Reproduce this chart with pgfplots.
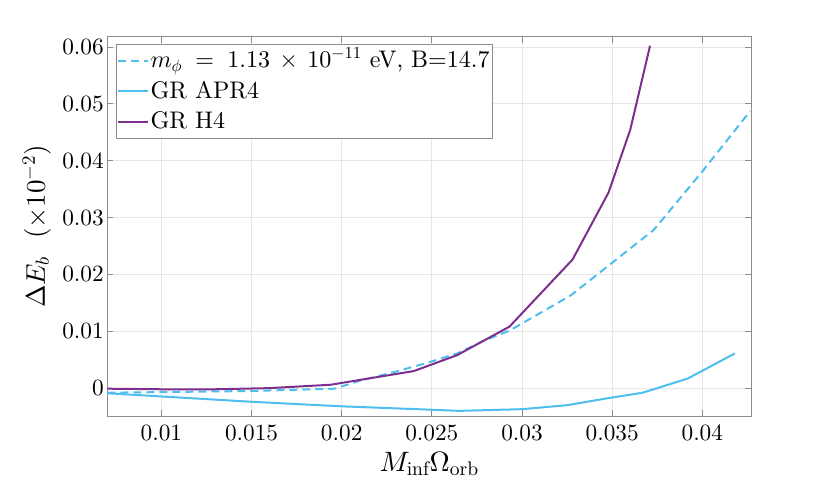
\documentclass[border=0pt]{standalone}
\usepackage{fontspec}
\setmainfont{lmroman10-regular.otf}[ItalicFont=lmroman10-italic.otf, BoldFont=lmroman10-bold.otf]
\DeclareFontShape{OT1}{cmr}{m}{n}{<->cmr10}{}
\DeclareFontShape{OML}{cmm}{m}{it}{<->cmmi10}{}
\DeclareFontShape{OMS}{cmsy}{m}{n}{<->cmsy10}{}
\usepackage{pgfplots}
\pgfplotsset{compat=1.18}
\definecolor{mblue}{RGB}{77,190,238}
\definecolor{mpurple}{RGB}{126,47,142}
\definecolor{axgray}{RGB}{140,140,140}
\definecolor{gridgray}{RGB}{230,230,230}
\begin{document}
\begin{tikzpicture}
\useasboundingbox (-107.3pt,-73pt) rectangle (722.7pt,416pt);
\begin{axis}[
  at={(0,0)}, anchor=south west,
  scale only axis, width=643.7pt, height=379.3pt,
  xmin=0.007, xmax=0.0427, ymin=-0.0049, ymax=0.0618,
  scaled ticks=false,
  xtick={0.01,0.015,0.02,0.025,0.03,0.035,0.04},
  xticklabels={0.01,0.015,0.02,0.025,0.03,0.035,0.04},
  ytick={0,0.01,0.02,0.03,0.04,0.05,0.06},
  yticklabels={0,0.01,0.02,0.03,0.04,0.05,0.06},
  tick label style={font=\fontsize{23.3}{28}\selectfont},
  xticklabel style={yshift=-5pt},
  tick align=inside, major tick length=6pt,
  tick style={axgray, line width=0.8pt},
  axis line style={axgray, line width=0.9pt},
  grid=major, major grid style={gridgray, line width=0.8pt},
  xlabel={$M_{\mathrm{inf}}\Omega_{\mathrm{orb}}$},
  ylabel={$\Delta E_b$\ \ ($\times 10^{-2}$)},
  label style={font=\fontsize{27}{32}\selectfont},
  xlabel style={font=\fontsize{28}{33}\selectfont, at={(axis description cs:0.5,-0.147)}, anchor=base},
  ylabel style={at={(axis description cs:-0.109,0.5)}, anchor=center},
  legend style={at={(0.013,0.980)}, anchor=north west, draw=axgray, line width=0.8pt,
    fill=white, font=\fontsize{24}{28}\selectfont,
    inner sep=1pt, row sep=0pt,
    nodes={inner xsep=1.5pt, inner ysep=2pt, text height=20pt, text depth=6.5pt}},
  legend cell align=left,
  legend image code/.code={\draw[#1] (0pt,0pt) -- (30pt,0pt);},
]
\addplot[mblue, line width=2pt, dash pattern=on 8pt off 5pt] coordinates {
(0.0070,-0.0008) (0.0100,-0.0007) (0.0150,-0.0005) (0.0196,-0.0001)
(0.0210,0.0013) (0.0230,0.0029) (0.0249,0.0046) (0.0264,0.0061)
(0.0280,0.0085) (0.0293,0.0101) (0.0327,0.0163) (0.0373,0.0278)
(0.0400,0.0381) (0.04265,0.0487)};
\addlegendentry{$m_\phi\;=\;1.13\,\times\,10^{-11}$ eV, B=14.7}
\addplot[mblue, line width=2pt] coordinates {
(0.0070,-0.0009) (0.0150,-0.0024) (0.0200,-0.0032) (0.0250,-0.0038)
(0.0265,-0.0040) (0.0300,-0.0037) (0.0325,-0.0030) (0.0347,-0.0018)
(0.0367,-0.0008) (0.0392,0.0017) (0.0418,0.0061)};
\addlegendentry{GR APR4}
\addplot[mpurple, line width=2pt] coordinates {
(0.0070,-0.0001) (0.0100,-0.0002) (0.0130,-0.0002) (0.0160,0.0000)
(0.0194,0.0006) (0.0215,0.0017) (0.0240,0.0030) (0.0264,0.0058)
(0.0293,0.0108) (0.0328,0.0226) (0.0348,0.0344) (0.0360,0.0454)
(0.0371,0.0602)};
\addlegendentry{GR H4}
\end{axis}
\end{tikzpicture}
\end{document}
